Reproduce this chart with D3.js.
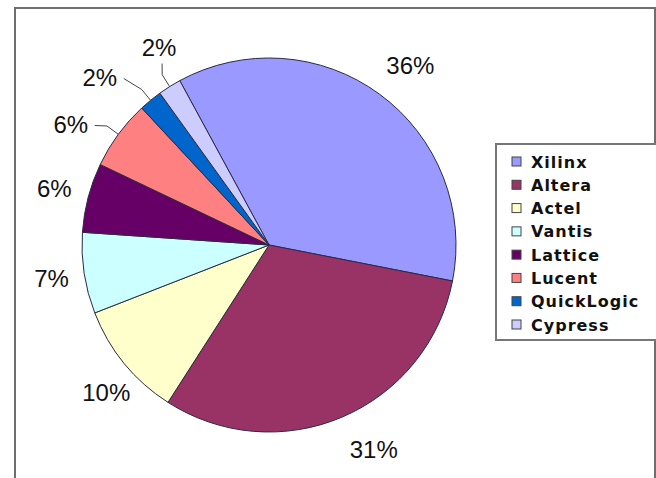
<!DOCTYPE html>
<html>
<head>
<meta charset="utf-8">
<script src="https://cdn.jsdelivr.net/npm/d3@7/dist/d3.min.js"></script>
<style>
  body { margin: 0; background: #fff; }
  svg { display: block; }
</style>
</head>
<body>
<div id="chart"></div>
<script>
// vendors and market share (%)
const vendors = ['Xilinx', 'Altera', 'Actel', 'Vantis', 'Lattice', 'Lucent', 'QuickLogic', 'Cypress'];
const shares = [36, 31, 10, 7, 6, 6, 2, 2];
const colors = ['#9999ff', '#993366', '#ffffcc', '#ccffff', '#660066', '#ff8080', '#0066cc', '#ccccff'];

const width = 656, height = 478;
const cx = 269, cy = 245, radius = 187;
const startAngle = -28.5 * Math.PI / 180;

const svg = d3.select('#chart').append('svg')
    .attr('width', width)
    .attr('height', height);

// outer frame (top and left edges visible, like the screenshot)
svg.append('path')
    .attr('d', 'M15,' + height + ' V8 H' + (width - 1) + ' V' + height)
    .attr('fill', 'none')
    .attr('stroke', '#6e6e6e')
    .attr('stroke-width', 2);

const data = vendors.map((v, i) => ({ name: v, value: shares[i], color: colors[i] }));

const pie = d3.pie()
    .value(d => d.value)
    .sort(null)
    .startAngle(startAngle)
    .endAngle(startAngle + 2 * Math.PI);

const arc = d3.arc().innerRadius(0).outerRadius(radius);

const g = svg.append('g').attr('transform', 'translate(' + cx + ',' + cy + ')');
const arcs = pie(data);

g.selectAll('path.slice')
    .data(arcs)
  .enter().append('path')
    .attr('class', 'slice')
    .attr('d', arc)
    .attr('fill', d => d.data.color)
    .attr('stroke', '#2a2a44')
    .attr('stroke-width', 1);

// label placement tweaks (degrees / px); small slices use leader lines
const nudge = { Xilinx: 2, Altera: -4, Actel: -3, Lucent: -5, QuickLogic: -6, Cypress: 3 };
const labelDist = { Xilinx: 228, Altera: 230, Actel: 220, Vantis: 220, Lattice: 222,
                    Lucent: 232, QuickLogic: 238, Cypress: 226 };
const leaders = ['Lucent', 'QuickLogic', 'Cypress'];

function pt(a, r) { return [Math.sin(a) * r, -Math.cos(a) * r]; }

arcs.forEach(d => {
  const mid = (d.startAngle + d.endAngle) / 2;
  const name = d.data.name;
  const la = mid + (nudge[name] || 0) * Math.PI / 180;
  const p = pt(la, labelDist[name]);

  g.append('text')
      .attr('x', p[0])
      .attr('y', p[1])
      .attr('dy', '0.35em')
      .attr('text-anchor', 'middle')
      .style('font-family', 'Arial, "Liberation Sans", sans-serif')
      .style('font-size', '24px')
      .style('fill', '#111')
      .text(d.data.value + '%');

  if (leaders.includes(name)) {
    const a0 = pt(mid, radius);
    const a1 = pt(mid, radius + 14);
    const end = name === 'Cypress' ? [p[0] + 3, p[1] + 16] : [p[0] + 24, p[1] + 1];
    g.append('path')
        .attr('d', d3.line()([a0, a1, end]))
        .attr('fill', 'none')
        .attr('stroke', '#444')
        .attr('stroke-width', 1);
  }
});

// legend
const legend = svg.append('g').attr('transform', 'translate(496,144)');
legend.append('rect')
    .attr('width', 175)
    .attr('height', 196)
    .attr('fill', '#fff')
    .attr('stroke', '#777')
    .attr('stroke-width', 2);

const rowY = d3.scalePoint().domain(vendors).range([18, 181]);

const rows = legend.selectAll('g.row')
    .data(data)
  .enter().append('g')
    .attr('class', 'row')
    .attr('transform', d => 'translate(0,' + rowY(d.name) + ')');

rows.append('rect')
    .attr('x', 16)
    .attr('y', -5)
    .attr('width', 9)
    .attr('height', 9)
    .attr('fill', d => d.color)
    .attr('stroke', '#444')
    .attr('stroke-width', 1);

rows.append('text')
    .attr('x', 35)
    .attr('dy', '0.35em')
    .style('font-family', 'Verdana, "DejaVu Sans", sans-serif')
    .style('font-weight', 'bold')
    .style('font-size', '16px')
    .style('letter-spacing', '1px')
    .style('fill', '#111')
    .text(d => d.name);
</script>
</body>
</html>
